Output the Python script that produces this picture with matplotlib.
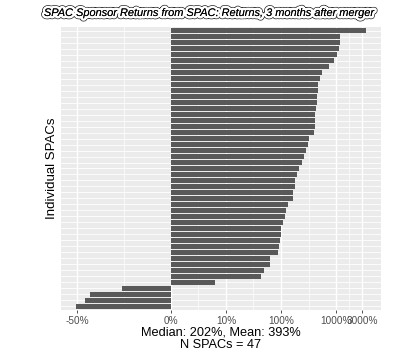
import numpy as np
import matplotlib
matplotlib.use("Agg")
import matplotlib.pyplot as plt
import matplotlib.patheffects as pe

# Returns (%) for each SPAC, sorted descending (top bar first)
returns_pct = [3556, 1197, 1162, 1134, 1043, 931, 755, 556, 507, 476,
               463, 451, 444, 429, 420, 412, 408, 392, 318, 305,
               289, 258, 244, 209, 198, 180, 177, 169, 163, 137,
               123, 120, 111, 101, 100, 97, 93, 90, 64, 63,
               50, 44, 6.2, -7.5, -28.5, -36, -53]
tick_values = [-50, 0, 10, 100, 1000, 3000]
tick_labels = ["-50%", "0%", "10%", "100%", "1000%", "3000%"]
title = "SPAC Sponsor Returns from SPAC: Returns, 3 months after merger"
ylabel = "Individual SPACs"
subtitle = "Median: 202%, Mean: 393%\nN SPACs = 47"

plt.rcParams['font.family'] = ['Liberation Sans', 'DejaVu Sans']

def fwd(x):
    return np.arcsinh(np.asarray(x, dtype=float) / 2) / np.log(10)

def inv(y):
    return 2 * np.sinh(np.asarray(y, dtype=float) * np.log(10))

fig = plt.figure(figsize=(4.0, 3.59), dpi=100)
ax = fig.add_axes([61/400, 1 - 310/359, 320/400, 283/359])
ax.set_facecolor('#EBEBEB')
ax.set_xscale('function', functions=(fwd, inv))

n = len(returns_pct)
ypos = np.arange(n)[::-1]
ax.barh(ypos, returns_pct, height=0.9, color='#595959', zorder=3)

# limits with 5% expansion in transformed space
t = fwd(returns_pct)
lo, hi = t.min(), t.max()
pad = 0.05 * (hi - lo)
ax.set_xlim(inv(lo - pad), inv(hi + pad))
ax.set_ylim(-0.6, n - 1 + 0.6)

# grid
for v in fwd(tick_values):
    ax.axvline(inv(v), color='white', lw=1.0, zorder=1)
tv = fwd(tick_values)
for a, b in zip(tv[:-1], tv[1:]):
    ax.axvline(inv((a + b) / 2), color='white', lw=0.5, zorder=1)
for y in ypos:
    ax.axhline(y, color='white', lw=0.6, zorder=1)

ax.set_xticks(tick_values)
ax.set_xticklabels(tick_labels)
ax.xaxis.set_minor_locator(matplotlib.ticker.NullLocator())
ax.set_yticks([])
ax.tick_params(axis='x', colors='#333333', labelcolor='#4D4D4D', labelsize=7.2,
               length=2.5, width=0.6, pad=1.5)
for s in ax.spines.values():
    s.set_visible(False)

ax.set_ylabel(ylabel, fontsize=9.5, labelpad=2)
ax.set_xlabel(subtitle, fontsize=9.2, linespacing=1.0, labelpad=1)

fig.text(209/400, 1 - 13/359, title, ha='center', va='center', fontsize=7.9,
         style='italic',
         path_effects=[pe.withStroke(linewidth=4.6, foreground='#222222'),
                       pe.withStroke(linewidth=3.6, foreground='white'),
                       pe.Normal()])

fig.savefig('out.png', dpi=100, facecolor='white')
